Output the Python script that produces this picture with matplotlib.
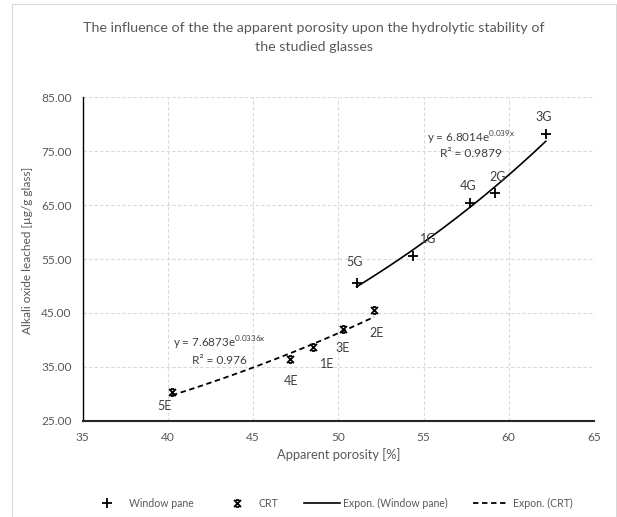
import numpy as np
import matplotlib
matplotlib.use("Agg")
import matplotlib.pyplot as plt
from matplotlib.path import Path
from matplotlib.patches import Rectangle
from matplotlib.lines import Line2D

plt.rcParams['font.family'] = ['Lato', 'DejaVu Sans']
plt.rcParams['mathtext.fontset'] = 'custom'
plt.rcParams['mathtext.rm'] = 'Lato'

# ---- data ----
window_labels = ["5G", "1G", "4G", "2G", "3G"]
window_x = [51.07, 54.36, 57.75, 59.2, 62.17]
window_y = [50.6, 55.6, 65.4, 67.3, 78.1]

crt_labels = ["5E", "4E", "1E", "3E", "2E"]
crt_x = [40.24, 47.16, 48.5, 50.28, 52.1]
crt_y = [30.3, 36.5, 38.6, 42.1, 45.5]

# trendline coefficients shown on the chart (y = a*e^(b*x))
window_a, window_b, window_r2 = 6.8014, 0.039, "0.9879"
crt_a, crt_b, crt_r2 = 7.6873, 0.0336, "0.976"

x_ticks = [35, 40, 45, 50, 55, 60, 65]
y_ticks = [25, 35, 45, 55, 65, 75, 85]

title = "The influence of the the apparent porosity upon the hydrolytic stability of\nthe studied glasses"
xlabel = "Apparent porosity [%]"
ylabel = "Alkali oxide leached [µg/g glass]"

GREY = "#595959"
DARK = "#404040"

W, H = 617, 517
fig = plt.figure(figsize=(W / 100, H / 100), dpi=100)

# outer chart frame
fig.patches.append(Rectangle((12 / W, 0.5 / H), (W - 13) / W, (H - 4.5) / H,
                             transform=fig.transFigure, fill=False,
                             edgecolor="#d9d9d9", linewidth=0.8))

ax = fig.add_axes([82.7 / W, 1 - 420.7 / H, (594 - 82.7) / W, (420.7 - 97.3) / H])

star = Path([(-1, -1), (1, 1), (-1, 1), (1, -1), (-0.5, 1), (0.5, 1), (-0.5, -1), (0.5, -1)],
            [Path.MOVETO, Path.LINETO, Path.MOVETO, Path.LINETO,
             Path.MOVETO, Path.LINETO, Path.MOVETO, Path.LINETO])

# trendlines
xw = np.linspace(min(window_x), max(window_x), 100)
xc = np.linspace(min(crt_x), max(crt_x), 100)
ax.plot(xw, window_a * np.exp(window_b * xw), color="black", lw=1.2, zorder=3)
ax.plot(xc, crt_a * np.exp(crt_b * xc), color="black", lw=1.3, ls=(0, (3, 2)), zorder=3)

ax.plot(window_x, window_y, ls="none", marker="+", ms=7, mew=1.3, color="black", zorder=4)
ax.plot(crt_x, crt_y, ls="none", marker=star, ms=5, mew=1.3, color="black", zorder=4)

# data labels
w_off = {"5G": (-2, 21), "1G": (16, 17), "4G": (-2, 17), "2G": (3, 16), "3G": (-2, 17)}
c_off = {"5E": (-7, -14), "4E": (1, -22), "1E": (14, -17), "3E": (0, -19), "2E": (2, -23)}
for lab, x, y in zip(window_labels, window_x, window_y):
    ax.annotate(lab, (x, y), xytext=w_off[lab], textcoords="offset pixels",
                ha="center", va="center", fontsize=9, color=DARK)
for lab, x, y in zip(crt_labels, crt_x, crt_y):
    ax.annotate(lab, (x, y), xytext=c_off[lab], textcoords="offset pixels",
                ha="center", va="center", fontsize=9, color=DARK)

# equations
ax.text(57.8, 77.4, "y = %.4fe$^{\\mathregular{%sx}}$" % (window_a, str(window_b)),
        ha="center", va="center", fontsize=8.4, color=DARK)
ax.text(57.8, 74.5, "R² = " + window_r2, ha="center", va="center", fontsize=8.6, color=DARK)
ax.text(43.0, 39.3, "y = %.4fe$^{\\mathregular{%sx}}$" % (crt_a, str(crt_b)),
        ha="center", va="center", fontsize=8.4, color=DARK)
ax.text(43.0, 36.2, "R² = " + crt_r2, ha="center", va="center", fontsize=8.6, color=DARK)

ax.set_xlim(35, 65)
ax.set_ylim(25, 85)
ax.set_xticks(x_ticks)
ax.set_yticks(y_ticks)
ax.set_yticklabels(["%.2f" % v for v in y_ticks])
ax.tick_params(length=0, labelsize=8.6, labelcolor=GREY, pad=8)
ax.grid(True, color="#d9d9d9", ls=(0, (3, 2)), lw=0.8)
ax.set_axisbelow(True)
for s in ["top", "right"]:
    ax.spines[s].set_visible(False)
ax.spines["left"].set_color("black")
ax.spines["left"].set_linewidth(1.0)
ax.spines["bottom"].set_color("#262626")
ax.spines["bottom"].set_linewidth(1.5)

ax.set_xlabel(xlabel, fontsize=9.3, color=GREY, labelpad=4)
ax.set_ylabel(ylabel, fontsize=8.6, color=GREY)
ax.yaxis.set_label_coords((33 - 82.7) / (594 - 82.7), (420.7 - 250) / (420.7 - 97.3))

fig.text(314 / W, 1 - 37.5 / H, title, ha="center", va="center", fontsize=10.3,
         color=GREY, linespacing=1.75)

handles = [
    Line2D([], [], ls="none", marker="+", ms=7, mew=1.3, color="black"),
    Line2D([], [], ls="none", marker=star, ms=5, mew=1.3, color="black"),
    Line2D([], [], color="black", lw=1.2),
    Line2D([], [], color="black", lw=1.3, ls=(0, (3, 2))),
]
names = ["Window pane", "CRT", "Expon. (Window pane)", "Expon. (CRT)"]
fig.legend(handles, names, loc="center", bbox_to_anchor=(331 / W, 1 - 503 / H),
           ncol=4, frameon=False, fontsize=7.6, labelcolor=GREY,
           handlelength=3.4, columnspacing=2.4, handletextpad=0.35)

fig.savefig("out.png", dpi=100)
